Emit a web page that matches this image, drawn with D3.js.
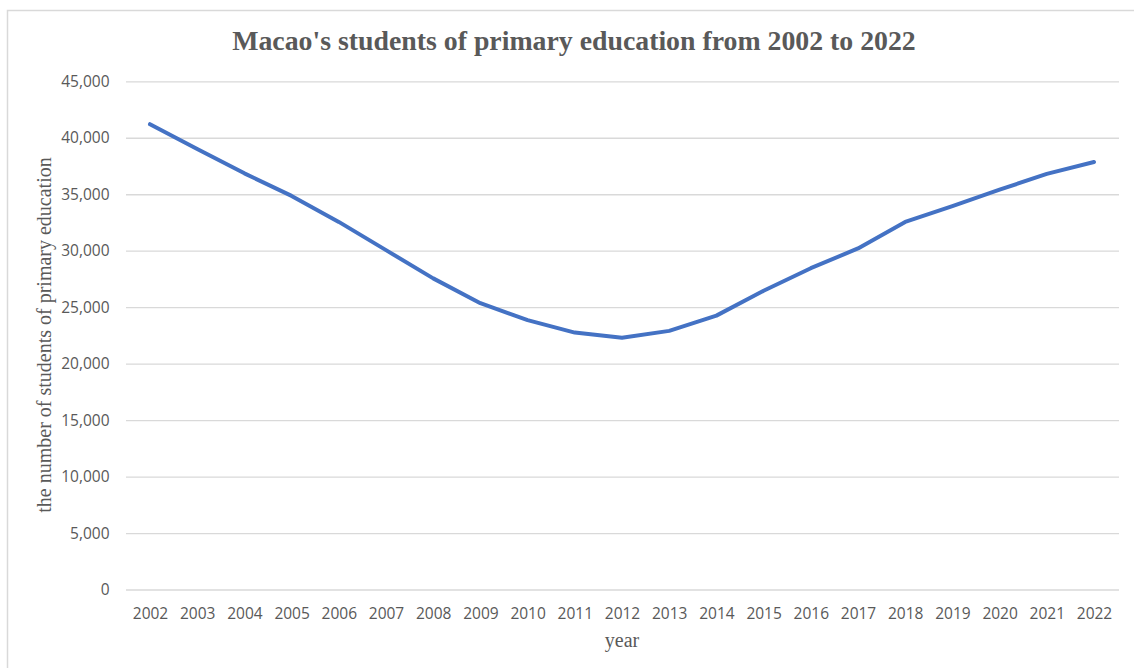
<!DOCTYPE html>
<html>
<head>
<meta charset="utf-8">
<script src="https://cdn.jsdelivr.net/npm/d3@7"></script>
<style>
  html, body { margin: 0; padding: 0; background: #fff; }
  svg { display: block; }
</style>
</head>
<body>
<svg id="chart" width="1134" height="668"></svg>
<script>
// Primary-education enrolment in Macao, 2002–2022
const years = ["2002","2003","2004","2005","2006","2007","2008","2009","2010","2011",
               "2012","2013","2014","2015","2016","2017","2018","2019","2020","2021","2022"];
const students = [41200, 39000, 36850, 34850, 32550, 30050, 27550, 25350, 23850, 22750,
                  22300, 22900, 24250, 26450, 28450, 30200, 32550, 33950, 35400, 36800, 37850];
const yTicks = [0, 5000, 10000, 15000, 20000, 25000, 30000, 35000, 40000, 45000];

const titleText = "Macao's students of primary education from 2002 to 2022";
const xTitle = "year";
const yTitle = "the number of students of primary education";

const svg = d3.select("#chart");
const W = 1134, H = 668;

const sansFont = "'Open Sans', 'Liberation Sans', sans-serif";
const serifFont = "'Liberation Serif', 'Times New Roman', serif";
const textGrey = "#595959";

// chart frame
svg.append("rect")
  .attr("x", 7.5).attr("y", 10.5)
  .attr("width", W + 10).attr("height", H + 10)
  .attr("fill", "#fff")
  .attr("stroke", "#d9d9d9").attr("stroke-width", 1.5);

const plot = { left: 126, right: 1119, top: 81.3, bottom: 589.5 };

const x = d3.scalePoint()
  .domain(years)
  .range([150, 1094]);

const y = d3.scaleLinear()
  .domain([0, 45000])
  .range([plot.bottom, plot.top]);

// horizontal gridlines with value labels
const yAxis = d3.axisLeft(y)
  .tickValues(yTicks)
  .tickSize(-(plot.right - plot.left))
  .tickPadding(16.5)
  .tickFormat(d3.format(","));

const gy = svg.append("g")
  .attr("transform", `translate(${plot.left},0)`)
  .call(yAxis);
gy.select(".domain").remove();
gy.selectAll(".tick line")
  .attr("stroke", "#d9d9d9").attr("stroke-width", 1.3);
gy.selectAll(".tick text")
  .attr("fill", textGrey)
  .style("font-family", sansFont)
  .style("font-size", "15.5px");

// category axis (labels only)
const xAxis = d3.axisBottom(x).tickSize(0).tickPadding(18);
const gx = svg.append("g")
  .attr("transform", `translate(0,${plot.bottom})`)
  .call(xAxis);
gx.select(".domain").remove();
gx.selectAll(".tick text")
  .attr("fill", textGrey)
  .style("font-family", sansFont)
  .style("font-size", "15.5px");

// data line
const line = d3.line()
  .x((d, i) => x(years[i]))
  .y(d => y(d));

svg.append("path")
  .datum(students)
  .attr("d", line)
  .attr("fill", "none")
  .attr("stroke", "#4472C4")
  .attr("stroke-width", 4)
  .attr("stroke-linejoin", "round")
  .attr("stroke-linecap", "round");

// titles
svg.append("text")
  .attr("x", 574).attr("y", 49.5)
  .attr("text-anchor", "middle")
  .attr("fill", textGrey)
  .style("font-family", serifFont)
  .style("font-weight", "bold")
  .style("font-size", "27.8px")
  .text(titleText);

svg.append("text")
  .attr("x", 622).attr("y", 646.5)
  .attr("text-anchor", "middle")
  .attr("fill", textGrey)
  .style("font-family", serifFont)
  .style("font-size", "20px")
  .text(xTitle);

svg.append("text")
  .attr("transform", "translate(50.5,335) rotate(-90)")
  .attr("text-anchor", "middle")
  .attr("fill", textGrey)
  .style("font-family", serifFont)
  .style("font-size", "20px")
  .text(yTitle);
</script>
</body>
</html>
